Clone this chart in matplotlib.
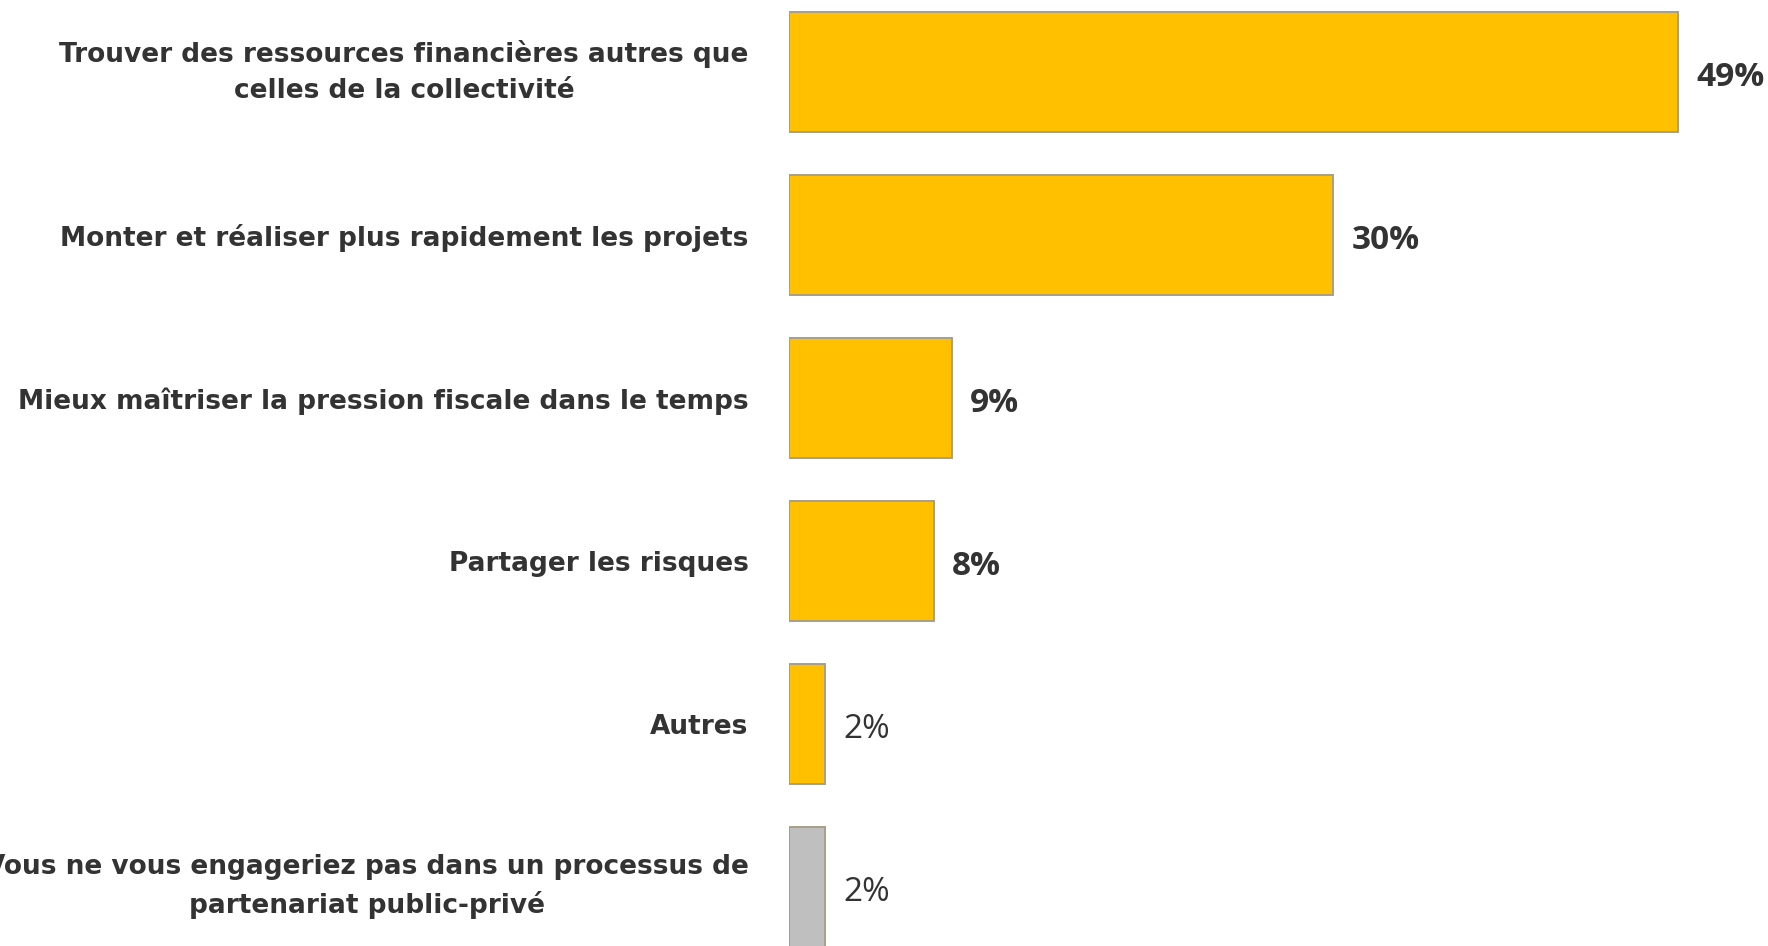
import matplotlib.pyplot as plt

# motivations for a public-private partnership (share of answers, %)
categories = [
    "Trouver des ressources financières autres que\ncelles de la collectivité",
    "Monter et réaliser plus rapidement les projets",
    "Mieux maîtriser la pression fiscale dans le temps",
    "Partager les risques",
    "Autres",
    "Vous ne vous engageriez pas dans un processus de\npartenariat public-privé",
]
values = [49, 30, 9, 8, 2, 2]
bold_labels = [True, True, True, True, False, False]
bar_colors = ["#FFC000"] * 5 + ["#BFBFBF"]

text_color = "#333333"
plt.rcParams['font.family'] = ['Open Sans', 'DejaVu Sans']

fig = plt.figure(figsize=(17.68, 9.46), dpi=100)
ax = fig.add_axes([789 / 1768, 0, 1 - 789 / 1768, 1])

y = list(range(len(values)))
ax.barh(y, values, height=0.736, color=bar_colors, edgecolor="#A89F87", linewidth=1.4)

ax.set_xlim(0, 49 * (1768 - 789) / 889)
ax.set_ylim(5.362, -0.4417)

# value labels next to each bar
for yi, v, b in zip(y, values, bold_labels):
    ax.annotate(f"{v}%", xy=(v, yi), xytext=(13, -4), textcoords="offset points",
                va="center", ha="left", fontsize=24,
                fontweight="bold" if b else "normal", color=text_color)

ax.set_yticks(y)
ax.set_yticklabels(categories, fontsize=19, fontweight="bold", color=text_color,
                   family="DejaVu Sans")
for lab in ax.get_yticklabels():
    lab.set_multialignment("center")
    lab.set_linespacing(1.5)
    if "\n" in lab.get_text():
        lab.set_verticalalignment("center")
ax.tick_params(axis="y", length=0, pad=29)
ax.set_xticks([])
for s in ax.spines.values():
    s.set_visible(False)

fig.savefig("out.png", dpi=100)
